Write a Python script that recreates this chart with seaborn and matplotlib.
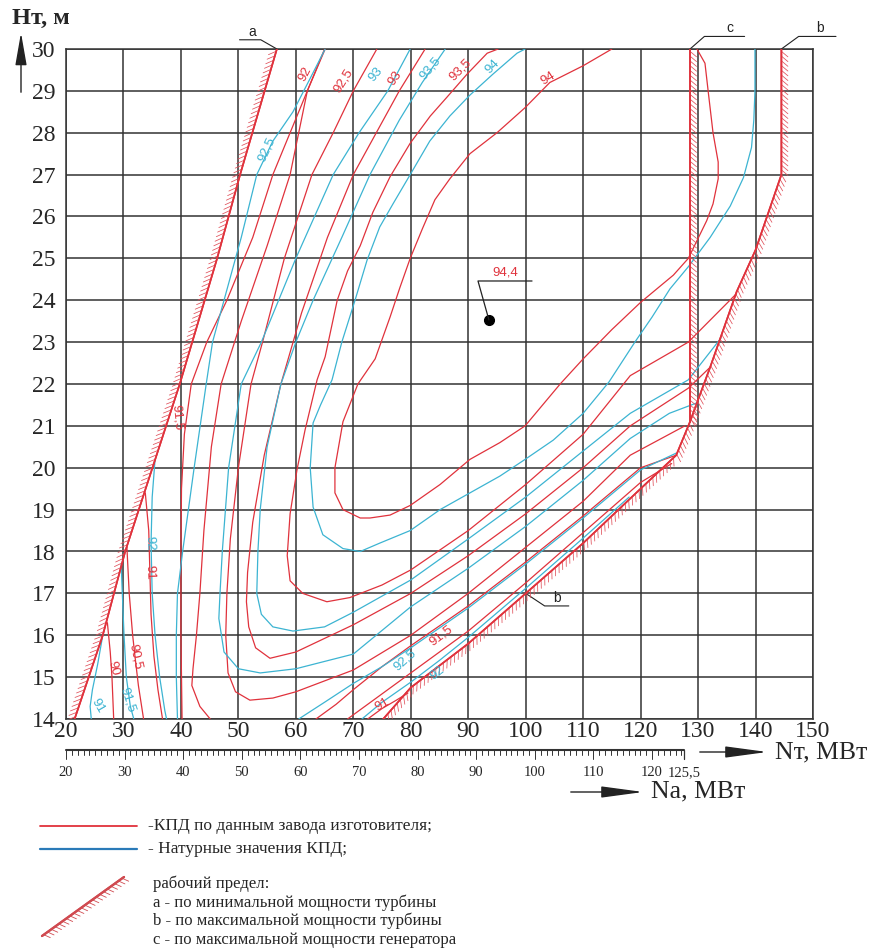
import matplotlib
matplotlib.use("Agg")
import matplotlib.pyplot as plt
import matplotlib.patheffects as pe
import seaborn as sns
import pandas as pd

sns.set_theme(style="white")
plt.rcParams['font.family'] = ['Liberation Serif', 'DejaVu Serif']

RED = '#e0323c'
BLUE = '#3cb4d2'

# ---------------- data ----------------
x_ticks = list(range(20, 151, 10))
y_ticks = list(range(14, 31))
na_major = [20, 30, 40, 50, 60, 70, 80, 90, 100, 110, 120]
na_end = 125.5
na_slope = 1.02   # Nt = 20 + (Na - 20) * 1.02 

bound_a = [(56.7, 30), (50.3, 27), (46.3, 25), (39.8, 22), (30.3, 18), (26.4, 16), (21.5, 14)]
bound_b = [(144.5, 30), (144.5, 27), (140, 25.2), (136.7, 24.2), (132.1, 22.4), (129.8, 21.55),
           (128.6, 21.1), (126.2, 20.3), (120, 19.5), (110, 18.2), (100, 17.0), (90, 15.8),
           (80, 14.75), (75.2, 14)]
bound_c = [(128.6, 30), (128.6, 21.1)]

red_94 = [(115, 30), (110, 29.6), (104.2, 29.2), (99.9, 28.6), (95, 28), (90.3, 27.5), (86.8, 26.9),
          (84.2, 26.4), (82, 25.7), (79.9, 25), (78.1, 24.3), (76.4, 23.6), (73.8, 22.6), (70.8, 22),
          (68.2, 21.1), (66.8, 20), (66.8, 19.4), (68.2, 19), (71.2, 18.8), (72.9, 18.8), (76.4, 18.87),
          (79.9, 19.1), (85.1, 19.6), (90.3, 20.2), (95.5, 20.6), (99.9, 21), (106, 22), (110, 22.6),
          (115, 23.3), (120, 23.95), (125.7, 24.6), (128.3, 25.0), (131.5, 25.9), (132.6, 26.3),
          (133.5, 26.9), (133.5, 27.3), (132.6, 28), (131.8, 28.94), (131.2, 29.66), (129.8, 30)]
blue_94 = [(99.9, 30), (98.5, 29.9), (94.3, 29.4), (90.3, 28.9), (86.8, 28.4), (83.3, 27.8), (79.9, 27),
           (76.9, 26.3), (74.6, 25.75), (72.4, 24.96), (70.3, 24), (68, 23), (66.3, 22.1), (64.3, 21.5),
           (63, 21.07), (62.5, 20), (63, 19.06), (64.7, 18.4), (68.2, 18.07), (71.2, 18.0), (74.6, 18.2),
           (79.9, 18.5), (85.1, 19), (90.3, 19.4), (95.5, 19.8), (99.9, 20.2), (104.8, 20.66), (110, 21.3),
           (114.5, 22.05), (119, 23), (122, 23.6), (125.1, 24.27), (128.3, 24.8), (132.1, 25.5),
           (135.6, 26.25), (137.9, 26.93), (139.3, 27.65), (139.7, 28.3), (139.9, 29), (139.9, 30)]
red_935 = [(95.2, 30), (93.3, 29.9), (89.8, 29.4), (86.3, 28.85), (83.4, 28.4), (79.9, 27.75), (76.4, 26.95),
           (73.4, 26.1), (71.2, 25.3), (69, 24.7), (67.2, 24), (65.1, 22.65), (63.7, 22.1), (61.6, 20.9),
           (60.2, 19.95), (59, 18.9), (58.5, 17.9), (59, 17.3), (61.2, 17.0), (65.4, 16.8), (69.4, 16.9),
           (75, 17.2), (80, 17.56), (90, 18.5), (100, 19.6), (110, 20.8), (118.2, 22.2), (128.3, 23.0),
           (136.7, 24.16)]
blue_935 = [(86, 30), (82, 29.2), (78, 28.3), (72.9, 27), (68, 25.5), (63, 24), (60, 23), (57.4, 22),
            (55, 20.5), (53.8, 19), (53.4, 18), (53.2, 17), (54, 16.5), (56, 16.2), (59.5, 16.1), (65, 16.2),
            (70, 16.55), (80, 17.32), (90, 18.3), (100, 19.3), (110, 20.4), (118.2, 21.3), (128.3, 22.1),
            (134, 23.1)]
red_93 = [(82.5, 30), (78, 29), (74, 28), (70, 27), (65.5, 25.5), (61, 23.7), (57.4, 22), (54.5, 20.3),
          (52.5, 18.7), (51.6, 17.5), (51.4, 16.8), (51.8, 16.2), (53, 15.7), (55.5, 15.45), (60, 15.6),
          (70, 16.25), (80, 17.0), (90, 17.9), (100, 18.9), (110, 20.0), (118.2, 21.0), (128.3, 21.9),
          (132.1, 22.4)]
blue_93 = [(79.9, 30), (76, 29), (71, 28), (66.5, 27), (60, 25), (54, 23), (50.5, 22), (48.3, 20),
           (47.2, 18), (46.8, 17), (46.6, 16.4), (47.5, 15.6), (50, 15.2), (53.8, 15.1), (60, 15.2),
           (70, 15.55), (80, 16.68), (90, 17.6), (100, 18.6), (110, 19.7), (118.2, 20.7), (125, 21.3),
           (129.8, 21.55)]
red_925 = [(74.1, 30), (70, 29), (66.5, 28), (62.8, 27), (58, 25), (54.2, 23), (52.2, 22), (50, 20),
           (48.6, 18.3), (48, 17), (47.8, 16), (48.2, 15.1), (49.5, 14.65), (52, 14.45), (56, 14.5),
           (60, 14.65), (70, 15.17), (80, 16.0), (90, 17.0), (100, 18.1), (110, 19.2), (118.2, 20.3),
           (127.7, 21.0)]
blue_925 = [(65.1, 30), (62.5, 29.3), (59.5, 28.5), (56, 27.8), (53.2, 27), (50.5, 25.5), (47.5, 24),
            (45.5, 23), (44.4, 22), (42.3, 20), (40.3, 18), (39.4, 17), (39.2, 16), (39.2, 15), (39.4, 14)]
blue_925_r = [(60.5, 14), (65, 14.4), (70, 14.85), (75, 15.25), (80, 15.7), (90, 16.65), (100, 17.7),
              (110, 18.8), (120, 19.95), (126.2, 20.35)]
red_92 = [(65.1, 30), (62, 29), (59, 27), (55, 25.3), (50.5, 23.5), (47, 22), (45.3, 20.5), (44, 18.5),
          (43.3, 17), (42.7, 16), (42.1, 15.2), (41.9, 14.8), (43.3, 14.3), (45.1, 14)]
red_92_r = [(63.5, 14), (67, 14.35), (70, 14.7), (75, 15.25), (80, 15.75), (90, 16.7), (100, 17.75),
            (110, 18.85), (120, 20.0), (126.2, 20.3)]
red_915 = [(65.0, 30), (62, 29), (59, 28), (56, 27), (52.5, 25.5), (48, 24), (44.5, 23), (41.8, 22),
           (40.6, 20.8), (40.1, 19.5), (40, 18), (40, 16), (40.1, 15), (40.2, 14)]
red_915_r = [(69, 14), (72, 14.3), (76, 14.7), (80, 15.1), (90, 16.1), (100, 17.25), (110, 18.45),
             (120, 19.65), (125.4, 20.1)]
blue_92 = [(35.5, 20.2), (35, 19.3), (34.8, 18.2), (35, 17), (35.5, 16), (36.3, 15), (37.2, 14.2), (37.5, 14)]
blue_92_r = [(71.5, 14), (75, 14.4), (80, 14.88), (85, 15.4), (90, 15.95), (100, 17.12), (110, 18.32),
             (118, 19.3)]
red_91 = [(33.8, 19.4), (34.4, 18.5), (34.6, 17.5), (34.8, 16.5), (35.3, 15.5), (36, 14.7), (36.8, 14)]
red_91_r = [(72.5, 14), (75, 14.25), (77.5, 14.45), (79.5, 14.62)]
red_905 = [(30.6, 18.1), (31, 17), (31.6, 16), (32, 15.5), (32.6, 14.8), (33.5, 14)]
blue_915 = [(29.6, 17.7), (29.8, 17), (30.1, 16), (30.5, 15), (31.2, 14.3), (31.8, 14)]
red_90 = [(27.2, 16.3), (27.7, 15.6), (28, 15), (28.3, 14)]
blue_91 = [(26.4, 16), (25.5, 15.3), (24.6, 14.7), (24.2, 14.3), (24.4, 14)]

red_lines = [red_94, red_935, red_93, red_925, red_92, red_92_r, red_915, red_915_r, red_91, red_91_r,
             red_905, red_90]
blue_lines = [blue_94, blue_935, blue_93, blue_925, blue_925_r, blue_92, blue_92_r, blue_915, blue_91]

peak_x, peak_y, peak_label = 93.6, 23.53, "94,4"

red_labels = [("92", 61.6, 29.4, 62), ("92,5", 68.2, 29.25, 58), ("93", 77.3, 29.3, 55), ("93,5", 88.6, 29.5, 45),
              ("94", 103.9, 29.3, 32), ("91,5", 39.3, 21.2, -84), ("91", 34.6, 17.5, -88),
              ("90,5", 32.0, 15.5, -78), ("90", 28.2, 15.2, -75), ("91,5", 85.3, 16.0, 37), ("91", 75.0, 14.35, 30)]
blue_labels = [("92,5", 55.0, 27.6, 65), ("93", 74.0, 29.4, 50), ("93,5", 83.3, 29.55, 50), ("94", 94.3, 29.57, 45),
               ("92", 34.6, 18.2, -88), ("91,5", 30.8, 14.45, -72), ("91", 25.6, 14.3, -60),
               ("92,5", 79.0, 15.4, 42), ("92", 84.7, 15.1, 38)]

# ---------------- figure ----------------
fig = plt.figure(figsize=(8.74, 9.49), dpi=100)
ax = fig.add_axes([66 / 874, 1 - 719 / 949, (813 - 66) / 874, (719 - 49) / 949])
ax.set_xlim(20, 150)
ax.set_ylim(14, 30)
ax.set_xticks(x_ticks)
ax.set_yticks(y_ticks)
ax.set_xticklabels([str(v) for v in x_ticks], fontsize=17)
ax.set_yticklabels([str(v) for v in y_ticks], fontsize=17)
ax.tick_params(axis='x', length=0, pad=1.5)
ax.tick_params(axis='y', length=0, pad=7.5)
ax.grid(True, color='#333333', lw=1.1)
for s in ax.spines.values():
    s.set_color('#333333')
    s.set_linewidth(1.1)


def draw(line, color, lw=0.9, z=3):
    df = pd.DataFrame(line, columns=['x', 'y'])
    sns.lineplot(data=df, x='x', y='y', sort=False, estimator=None, color=color, lw=lw, ax=ax, zorder=z)


for ln in red_lines:
    draw(ln, RED)
for ln in blue_lines:
    draw(ln, BLUE)

HATCH = '#e0505a'
# boundaries with hatching
for line, ang in [(bound_a, -50), (bound_b, 50), (bound_c, 50)]:
    df = pd.DataFrame(line, columns=['x', 'y'])
    sns.lineplot(data=df, x='x', y='y', sort=False, estimator=None, color=RED, lw=1.2, ax=ax, zorder=4,
                 path_effects=[pe.Stroke(), pe.withTickedStroke(angle=ang, spacing=3.4, length=1.8,
                                                               linewidth=0.55, foreground=HATCH)])
ax.set_xlabel('')
ax.set_ylabel('')

lab_font = ['Liberation Sans', 'DejaVu Sans']
for t, x, y, r in red_labels:
    ax.text(x, y, t, color=RED, fontsize=9.5, rotation=r, ha='center', va='center', family=lab_font, zorder=6)
for t, x, y, r in blue_labels:
    ax.text(x, y, t, color=BLUE, fontsize=9.5, rotation=r, ha='center', va='center', family=lab_font, zorder=6)

# peak point
ax.plot([peak_x], [peak_y], 'o', color='black', ms=7, zorder=7)
ax.plot([peak_x, peak_x - 1.9, peak_x + 7.5], [peak_y, peak_y + 0.93, peak_y + 0.93], color='#222222', lw=0.9, zorder=7)
ax.text(peak_x + 2.8, peak_y + 1.0, peak_label, color=RED, fontsize=9.5, ha='center', va='bottom', family=lab_font)

# boundary letters with leaders
leader_kw = dict(color='#222222', lw=0.8, clip_on=False)
ax.plot([bound_a[0][0], bound_a[0][0] - 2.8, bound_a[0][0] - 6.5], [30, 30.22, 30.22], **leader_kw)
ax.text(bound_a[0][0] - 4.3, 30.25, 'a', color='#222222', fontsize=10, ha='center', va='bottom', family=lab_font)
ax.plot([bound_c[0][0], bound_c[0][0] + 2.5, bound_c[0][0] + 9.5], [30, 30.3, 30.3], **leader_kw)
ax.text(bound_c[0][0] + 7, 30.33, 'c', color='#222222', fontsize=10, ha='center', va='bottom', family=lab_font)
ax.plot([bound_b[0][0], bound_b[0][0] + 3, bound_b[0][0] + 9.5], [30, 30.3, 30.3], **leader_kw)
ax.text(bound_b[0][0] + 6.8, 30.33, 'b', color='#222222', fontsize=10, ha='center', va='bottom', family=lab_font)
ax.plot([100, 103.3, 107.5], [17.0, 16.7, 16.7], color='#222222', lw=0.8)
ax.text(105.5, 16.73, 'b', color='#222222', fontsize=10, ha='center', va='bottom', family=lab_font)

# y axis title with arrow
fig.text(12 / 874, 1 - 18 / 949, 'Нт, м', fontsize=17.5, fontweight='bold', ha='left', va='center')
fig.add_artist(matplotlib.patches.FancyArrowPatch((21 / 874, 1 - 95 / 949), (21 / 874, 1 - 30 / 949),
               transform=fig.transFigure, arrowstyle='-|>,head_length=20,head_width=3.5', color='#222222', lw=1))

# Na ruler
ruler_y = 1 - 750 / 949
trans = matplotlib.transforms.blended_transform_factory(ax.transData, fig.transFigure)
nt0 = 20
nt_end = nt0 + (na_end - 20) * na_slope
ax.plot([nt0, nt_end], [ruler_y, ruler_y], transform=trans, color='#333333', lw=1.5, clip_on=False)
for na in range(20, 126):
    nt = nt0 + (na - 20) * na_slope
    L = 9 / 949 if na % 10 == 0 else 5 / 949
    ax.plot([nt, nt], [ruler_y, ruler_y - L], transform=trans, color='#333333', lw=0.7, clip_on=False)
ax.plot([nt_end, nt_end], [ruler_y, ruler_y - 9 / 949], transform=trans, color='#333333', lw=0.9, clip_on=False)
for na in na_major + [na_end]:
    nt = nt0 + (na - 20) * na_slope
    lab = '125,5' if na == na_end else str(na)
    ax.text(nt, 1 - 773 / 949, lab, transform=trans, fontsize=10.5, ha='center', va='center')

# arrows with axis names
fig.add_artist(matplotlib.patches.FancyArrowPatch((697 / 874, 1 - 752 / 949), (770 / 874, 1 - 752 / 949),
               transform=fig.transFigure, arrowstyle='-|>,head_length=26,head_width=3.5', color='#222222', lw=1))
fig.text(775 / 874, 1 - 752 / 949, 'Nт, МВт', fontsize=18.5, ha='left', va='center')
fig.add_artist(matplotlib.patches.FancyArrowPatch((568 / 874, 1 - 792 / 949), (646 / 874, 1 - 792 / 949),
               transform=fig.transFigure, arrowstyle='-|>,head_length=26,head_width=3.5', color='#222222', lw=1))
fig.text(651 / 874, 1 - 791 / 949, 'Na, МВт', fontsize=18.5, ha='left', va='center')

# legend
fig.add_artist(matplotlib.lines.Line2D([40 / 874, 137 / 874], [1 - 826 / 949, 1 - 826 / 949], color=RED, lw=1.3))
fig.add_artist(matplotlib.lines.Line2D([40 / 874, 137 / 874], [1 - 849 / 949, 1 - 849 / 949], color='#2a7ab8', lw=1.6))
fig.text(148 / 874, 1 - 826 / 949, '-КПД по данным завода изготовителя;', fontsize=12.5, ha='left', va='center')
fig.text(148 / 874, 1 - 849 / 949, '- Натурные значения КПД;', fontsize=12.5, ha='left', va='center')
fig.add_artist(matplotlib.lines.Line2D([42 / 874, 124 / 874], [1 - 936 / 949, 1 - 877 / 949], color='#d04a50', lw=1.6,
               path_effects=[pe.Stroke(), pe.withTickedStroke(angle=-60, spacing=3.2, length=1.6, linewidth=0.6,
                                                              foreground='#d04a50')]))
for i, t in enumerate(['рабочий предел:', 'a - по минимальной мощности турбины',
                       'b - по максимальной мощности турбины', 'c - по максимальной мощности генератора']):
    fig.text(153 / 874, 1 - (884 + i * 18.5) / 949, t, fontsize=12, ha='left', va='center')

fig.savefig('out.png', dpi=100)
